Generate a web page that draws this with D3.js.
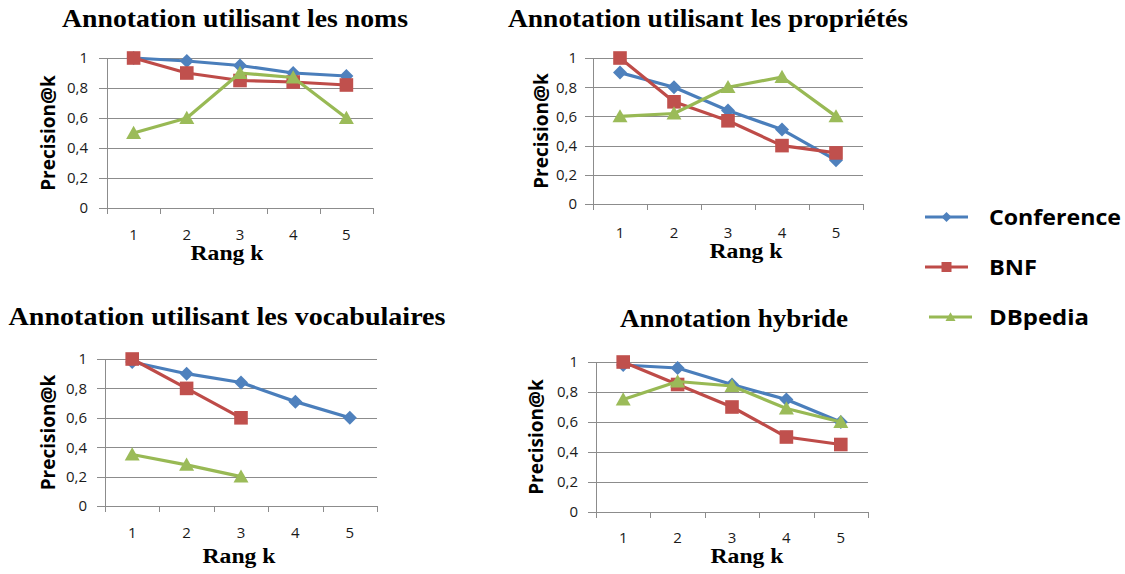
<!DOCTYPE html>
<html>
<head>
<meta charset="utf-8">
<script src="https://cdn.jsdelivr.net/npm/d3@7"></script>
<style>
  html, body { margin: 0; padding: 0; background: #fff; }
  svg { display: block; }
</style>
</head>
<body>
<svg id="chart" width="1125" height="574"></svg>
<script>
// ---------- DATA ----------
const categories = [1, 2, 3, 4, 5];
const yTicks = [0, 0.2, 0.4, 0.6, 0.8, 1];
const yTickLabels = ["0", "0,2", "0,4", "0,6", "0,8", "1"];
const seriesNames = ["Conference", "BNF", "DBpedia"];
const panelTitles = [
  "Annotation utilisant les noms",
  "Annotation utilisant les propriétés",
  "Annotation utilisant les vocabulaires",
  "Annotation hybride"
];
const xAxisTitle = "Rang k";
const yAxisTitle = "Precision@k";

// Annotation utilisant les noms
const nomsConference = [1, 0.98, 0.95, 0.9, 0.88];
const nomsBNF        = [1, 0.9, 0.85, 0.84, 0.82];
const nomsDBpedia    = [0.5, 0.6, 0.9, 0.87, 0.6];
// Annotation utilisant les propriétés
const propConference = [0.9, 0.8, 0.64, 0.51, 0.3];
const propBNF        = [1, 0.7, 0.57, 0.4, 0.35];
const propDBpedia    = [0.6, 0.62, 0.8, 0.87, 0.6];
// Annotation utilisant les vocabulaires
const vocConference  = [0.98, 0.9, 0.84, 0.71, 0.6];
const vocBNF         = [1, 0.8, 0.6, null, null];
const vocDBpedia     = [0.35, 0.28, 0.2, null, null];
// Annotation hybride
const hybConference  = [0.98, 0.96, 0.85, 0.75, 0.6];
const hybBNF         = [1, 0.85, 0.7, 0.5, 0.45];
const hybDBpedia     = [0.75, 0.87, 0.84, 0.69, 0.6];

const panelData = [
  [nomsConference, nomsBNF, nomsDBpedia],
  [propConference, propBNF, propDBpedia],
  [vocConference, vocBNF, vocDBpedia],
  [hybConference, hybBNF, hybDBpedia]
];

// ---------- STYLE / LAYOUT ----------
const lineColors   = ["#4A7EBB", "#BE4B48", "#98B954"];
const markerColors = ["#4F81BD", "#C0504D", "#9BBB59"];
const markerShapes = ["diamond", "square", "triangle"];

const layout = [
  {left:107, top:58,  right:373, bottom:208, titleX:235, titleY:27,  titleW:346, rangX:227, rangY:260, yLabX:48,  gap:19, xLabY:240},
  {left:593, top:58,  right:863, bottom:204, titleX:708, titleY:27,  titleW:400, rangX:746, rangY:258, yLabX:541, gap:16, xLabY:238},
  {left:105, top:359, right:377, bottom:506, titleX:227, titleY:325, titleW:437, rangX:239, rangY:563, yLabX:48,  gap:18, xLabY:538},
  {left:596, top:362, right:868, bottom:512, titleX:734, titleY:327, titleW:228, rangX:747, rangY:563, yLabX:536, gap:18, xLabY:543}
];

const svg = d3.select("#chart");
const gridColor = "#8C8C8C";
const sansFont = "'Open Sans', 'Liberation Sans', sans-serif";
const serifFont = "'Liberation Serif', 'Times New Roman', serif";

function markerPath(shape, s) {
  if (shape === "diamond") {
    return `M0,${-s}L${s},0L0,${s}L${-s},0Z`;
  } else if (shape === "square") {
    return `M${-s},${-s}H${s}V${s}H${-s}Z`;
  } else {
    const h = s * 1.75;
    return `M0,${-h*0.55}L${s},${h*0.45}L${-s},${h*0.45}Z`;
  }
}
const markerSize = [7, 6.8, 7.5];

panelData.forEach((series, pi) => {
  const L = layout[pi];
  const g = svg.append("g");

  const x = d3.scaleBand().domain(categories).range([L.left, L.right]).padding(0);
  const y = d3.scaleLinear().domain([0, 1]).range([L.bottom, L.top]);

  // gridlines
  g.selectAll("line.grid").data(yTicks).join("line")
    .attr("x1", L.left - 8).attr("x2", L.right)
    .attr("y1", d => Math.round(y(d)) + 0.5).attr("y2", d => Math.round(y(d)) + 0.5)
    .attr("stroke", gridColor).attr("stroke-width", 1);

  // y axis line
  g.append("line")
    .attr("x1", L.left + 0.5).attr("x2", L.left + 0.5)
    .attr("y1", y(1)).attr("y2", y(0) + 6)
    .attr("stroke", gridColor).attr("stroke-width", 1);

  // x ticks between categories
  const tickPos = categories.map(c => x(c)).concat([L.right]);
  g.selectAll("line.xt").data(tickPos).join("line")
    .attr("x1", d => Math.round(d) + 0.5).attr("x2", d => Math.round(d) + 0.5)
    .attr("y1", y(0)).attr("y2", y(0) + 6)
    .attr("stroke", gridColor).attr("stroke-width", 1);

  // y tick labels
  g.selectAll("text.yt").data(yTicks).join("text")
    .attr("x", L.left - L.gap)
    .attr("y", d => y(d))
    .attr("dy", "0.36em")
    .attr("text-anchor", "end")
    .attr("font-family", sansFont)
    .attr("font-size", 15)
    .attr("fill", "#1a1a1a")
    .text((d, i) => yTickLabels[i]);

  // x tick labels via axis
  const xAxis = d3.axisBottom(x).tickSize(0).tickPadding(0);
  const ax = g.append("g").attr("transform", `translate(0,${L.xLabY - 10})`).call(xAxis);
  ax.select(".domain").remove();
  ax.selectAll("text")
    .attr("font-family", sansFont)
    .attr("font-size", 15)
    .attr("fill", "#1a1a1a")
    .attr("dy", 0).attr("y", 10);

  // titles
  g.append("text")
    .attr("x", L.titleX - L.titleW / 2).attr("y", L.titleY)
    .attr("font-family", serifFont)
    .attr("font-weight", "bold").attr("font-size", 25)
    .attr("textLength", L.titleW).attr("lengthAdjust", "spacingAndGlyphs")
    .attr("fill", "#000")
    .text(panelTitles[pi]);

  g.append("text")
    .attr("x", L.rangX - 36.5).attr("y", L.rangY)
    .attr("font-family", serifFont)
    .attr("font-weight", "bold").attr("font-size", 20)
    .attr("textLength", 73).attr("lengthAdjust", "spacingAndGlyphs")
    .attr("fill", "#000")
    .text(xAxisTitle);

  g.append("text")
    .attr("transform", `translate(${L.yLabX},${(L.top + L.bottom) / 2}) rotate(-90)`)
    .attr("text-anchor", "middle")
    .attr("dy", "0.35em")
    .attr("font-family", sansFont)
    .attr("font-weight", "bold").attr("font-size", 19)
    .attr("fill", "#000")
    .text(yAxisTitle);

  // series
  series.forEach((vals, si) => {
    const pts = categories.map((c, i) => ({c, v: vals[i]})).filter(p => p.v !== null);
    const line = d3.line()
      .x(p => x(p.c) + x.bandwidth() / 2)
      .y(p => y(p.v));
    g.append("path")
      .datum(pts)
      .attr("d", line)
      .attr("fill", "none")
      .attr("stroke", lineColors[si])
      .attr("stroke-width", 3.2)
      .attr("stroke-linejoin", "round");
    g.selectAll(null).data(pts).join("path")
      .attr("transform", p => `translate(${x(p.c) + x.bandwidth() / 2},${y(p.v)})`)
      .attr("d", markerPath(markerShapes[si], markerSize[si]))
      .attr("fill", markerColors[si]);
  });
});

// ---------- LEGEND ----------
const legendY = [217, 267, 317];
const legendW = [132, 48, 100];
const legend = svg.append("g");
seriesNames.forEach((name, si) => {
  const ly = legendY[si];
  const x0 = si === 2 ? 929 : 925;
  legend.append("line")
    .attr("x1", x0).attr("x2", x0 + 43)
    .attr("y1", ly).attr("y2", ly)
    .attr("stroke", lineColors[si]).attr("stroke-width", 3.2);
  legend.append("path")
    .attr("transform", `translate(${x0 + 21.5},${ly})`)
    .attr("d", markerPath(markerShapes[si], 5))
    .attr("fill", markerColors[si]);
  legend.append("text")
    .attr("x", 989).attr("y", ly)
    .attr("dy", "0.35em")
    .attr("font-family", sansFont)
    .attr("font-weight", "bold").attr("font-size", 22)
    .attr("textLength", legendW[si]).attr("lengthAdjust", "spacingAndGlyphs")
    .attr("fill", "#000")
    .text(name);
});
</script>
</body>
</html>
